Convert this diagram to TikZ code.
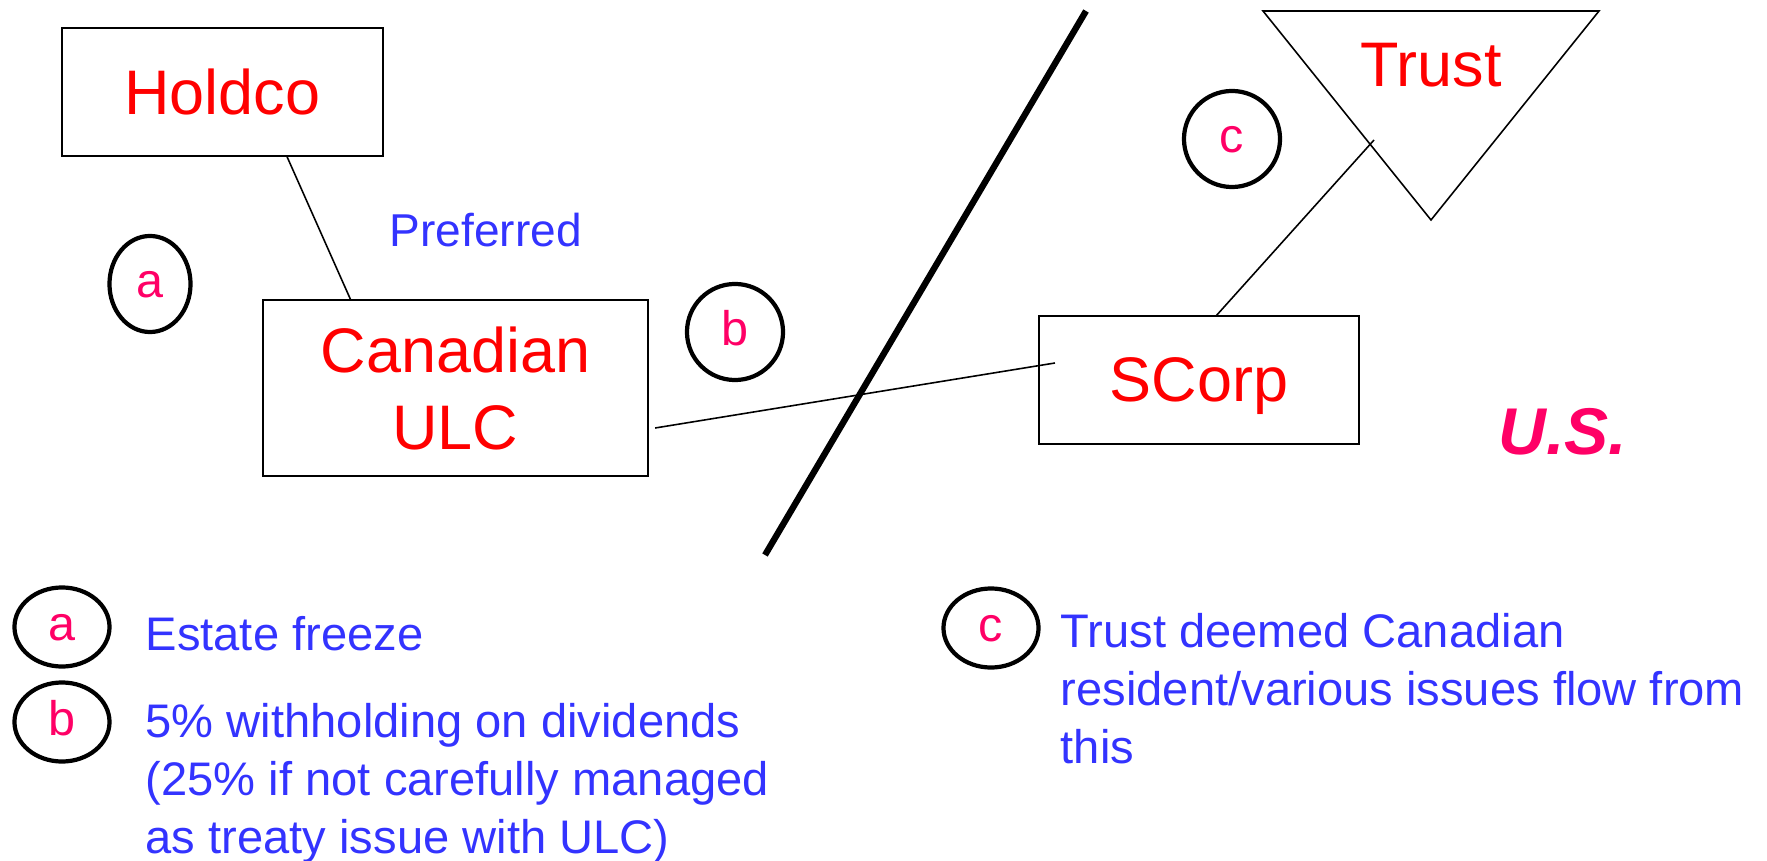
\documentclass[tikz,border=0pt]{standalone}
\usepackage{fontspec}
\setmainfont{Liberation Sans}
\usepackage{tikz}
\usetikzlibrary{positioning}
\usetikzlibrary{shapes.geometric}
\usetikzlibrary{calc}
\definecolor{entred}{HTML}{FF0000}
\definecolor{noteblue}{HTML}{3333FF}
\definecolor{tagpink}{HTML}{FF0066}
\tikzstyle{entitytext}=[text=entred,font=\fontsize{17.9}{21.9}\selectfont,align=center,text depth=0pt,inner sep=0pt,outer sep=0pt]
\tikzstyle{entity}=[entitytext,rectangle,draw,line width=0.6pt]
\tikzstyle{tag}=[ellipse,draw,line width=1.2pt,text=tagpink,font=\fontsize{13.8}{16}\selectfont,inner sep=0pt,outer sep=0pt,text height=1.4ex,text depth=0pt]
\tikzstyle{keytag}=[tag,minimum width=0.95cm,minimum height=0.79cm]
\tikzstyle{link} = [draw,line width=0.45pt]
\tikzstyle{border} = [draw,line width=1.8pt]
\tikzstyle{note} = [anchor=base west,text=noteblue,font=\fontsize{13.4}{16.4}\selectfont,align=left,inner sep=0pt]

\begin{document}
\begin{tikzpicture}[x=0.01cm,y=-0.01cm]
  \useasboundingbox (0,0) rectangle (1767,861);

  % companies
  \foreach \pos/\name/\bw/\bh/\label in {{(222.5,92)/holdco/3.21/1.28/Holdco}, {(455.5,388)/ulc/3.85/1.76/Canadian\\ULC}, {(1199,380)/scorp/3.20/1.28/SCorp}}
     \node[entity,minimum width=\bw cm,minimum height=\bh cm] (\name) at \pos {\label};

  % the trust, upside down
  \draw[link] (1263,11) coordinate (trustL) -- (1599,11) coordinate (trustR) -- (1431,220) coordinate (trustTip) -- cycle;
  \node[entitytext] (trust) at (1431,65) {Trust};

  % Canada / U.S. border
  \coordinate (borderN) at (1086,11);
  \coordinate (borderS) at (765,555);
  \draw[border] (borderN) -- (borderS);

  % ownership lines
  \path[link] ($(holdco.south west)!0.7!(holdco.south east)$) -- ($(ulc.north west)!0.228!(ulc.north east)$);
  \path[link] ($(ulc.east)+(7,40)$) -- ($(scorp.west)+(16,-17)$);
  \coordinate (trustfoot) at ($(trust.center)+(-57,75)$);
  \path[link] ($(scorp.north)+(17,0)$) -- (trustfoot);

  \node[anchor=base west,text=noteblue,font=\fontsize{13.1}{16}\selectfont,inner sep=0pt] (pref) at (389,247) {Preferred};
  \node[anchor=base west,text=tagpink,font=\fontsize{18.8}{22}\selectfont\bfseries\itshape,inner sep=0pt] (us) at (1498,455) {U.S.};

  % issue markers
  \foreach \pos/\name/\bw/\label in {{(150,284)/taga/0.81/a}, {(735,332)/tagb/0.96/b}, {(1232,139)/tagc/0.96/c}}
     \node[tag,minimum width=\bw cm,minimum height=0.96cm] (\name) at \pos {\label};

  % key (base of a multi-line note is its last line)
  \foreach \pos/\name/\label in {{(62,627)/keya/a}, {(62,722)/keyb/b}, {(991,628)/keyc/c}}
     \node[keytag] (\name) at \pos {\label};

  \node[note] (freeze) at (145,650) {Estate freeze};
  \node[note] (withhold) at (145,853) {5\% withholding on dividends\\(25\% if not carefully managed\\as treaty issue with ULC)};
  \node[note] (deemed) at (1060,763) {Trust deemed Canadian\\resident/various issues flow from\\this};

\end{tikzpicture}
\end{document}
